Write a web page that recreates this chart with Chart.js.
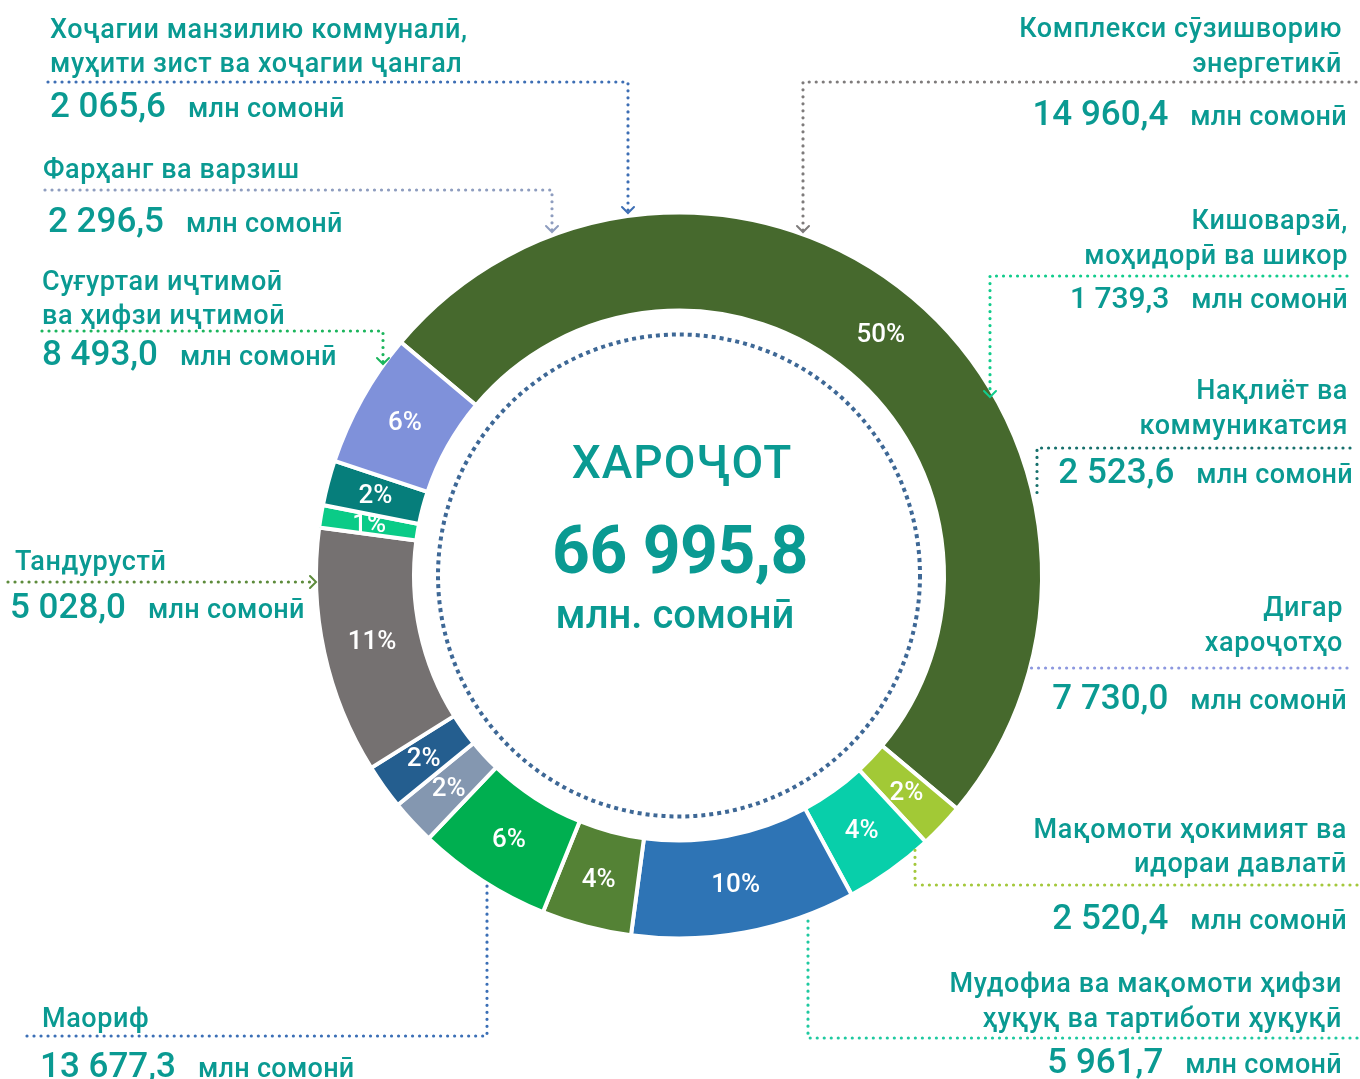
<!DOCTYPE html>
<html>
<head>
<meta charset="utf-8">
<script src="https://cdn.jsdelivr.net/npm/chart.js@4.4.1/dist/chart.umd.min.js"></script>
<style>
html, body { margin: 0; padding: 0; background: #fff; }
#wrap { position: relative; width: 1360px; height: 1079px; overflow: hidden; }
#chart, #labels { position: absolute; left: 0; top: 0; }
#labels text { font-family: Roboto, "DejaVu Sans", sans-serif; fill: #0A9A92; }
.cat { font-size: 27px; font-weight: 500; letter-spacing: 0.6px; }
.num { font-size: 35px; font-weight: 500; }
.num.small { font-size: 30px; }
.unit { font-size: 27px; font-weight: 500; letter-spacing: 0.3px; }
</style>
</head>
<body>
<div id="wrap">
<canvas id="chart" width="1360" height="1079"></canvas>
<svg id="labels" width="1360" height="1079" xmlns="http://www.w3.org/2000/svg"></svg>
</div>
<script>
// ring segments as drawn (clockwise, starting upper left)
var shares = [50, 2, 4, 10, 4, 6, 2, 2, 11, 1, 2, 6];
var shareColors = ['#46692D', '#A2C936', '#08CFAA', '#2E74B5', '#548235', '#00AF50',
    '#8497B0', '#245E8F', '#757171', '#0ACB87', '#067E7B', '#7F91DA'];

// spending categories, million somoni
var categories = [
    ['Хоҷагии манзилию коммуналӣ,', 'муҳити зист ва хоҷагии ҷангал'],
    ['Фарҳанг ва варзиш'],
    ['Суғуртаи иҷтимоӣ', 'ва ҳифзи иҷтимоӣ'],
    ['Тандурустӣ'],
    ['Маориф'],
    ['Комплекси сӯзишворию', 'энергетикӣ'],
    ['Кишоварзӣ,', 'моҳидорӣ ва шикор'],
    ['Нақлиёт ва', 'коммуникатсия'],
    ['Дигар', 'хароҷотҳо'],
    ['Мақомоти ҳокимият ва', 'идораи давлатӣ'],
    ['Мудофиа ва мақомоти ҳифзи', 'ҳуқуқ ва тартиботи ҳуқуқӣ']
];
var spending = [2065.6, 2296.5, 8493.0, 5028.0, 13677.3, 14960.4, 1739.3, 2523.6, 7730.0, 2520.4, 5961.7];
var unitLabel = 'млн сомонӣ';
var centerTitle = 'ХАРОҶОТ';
var centerUnit = 'млн. сомонӣ';

// where each label block sits (baselines)
var labelLayout = [
    { x: 50, anchor: 'start', lines: [38, 72], numX: 50, num: 117 },
    { x: 43, anchor: 'start', lines: [178], numX: 48, num: 232 },
    { x: 42, anchor: 'start', lines: [290, 324], numX: 42, num: 365 },
    { x: 15, anchor: 'start', lines: [570], numX: 10, num: 618 },
    { x: 42, anchor: 'start', lines: [1027], numX: 40, num: 1077 },
    { x: 1342, anchor: 'end', lines: [37, 72], numX: 1347, num: 125 },
    { x: 1348, anchor: 'end', lines: [229, 264], numX: 1348, num: 308, small: true },
    { x: 1348, anchor: 'end', lines: [399, 434], numX: 1353, num: 483 },
    { x: 1343, anchor: 'end', lines: [616, 651], numX: 1347, num: 709 },
    { x: 1347, anchor: 'end', lines: [838, 872], numX: 1347, num: 929 },
    { x: 1342, anchor: 'end', lines: [992, 1027], numX: 1342, num: 1073 }
];

// dotted leader lines: colour, points, arrow at the end
var leaders = [
    { color: '#3D6EB4', pts: [[48, 82], [628, 82], [628, 211]], arrow: 'down' },
    { color: '#8E9DBF', pts: [[45, 190], [552, 190], [552, 230]], arrow: 'down' },
    { color: '#1BB55C', pts: [[42, 331], [383, 331], [383, 362]], arrow: 'down' },
    { color: '#5D8B3B', pts: [[8, 582], [313, 582]], arrow: 'right' },
    { color: '#3B6FB6', pts: [[27, 1036], [487, 1036], [487, 884]] },
    { color: '#7E7B7B', pts: [[1356, 82], [803, 82], [803, 230]], arrow: 'down' },
    { color: '#12CC8C', pts: [[1347, 276], [990, 276], [990, 395]], arrow: 'down' },
    { color: '#17706C', pts: [[1350, 448], [1037, 448], [1037, 498]] },
    { color: '#8D98DF', pts: [[1347, 668], [1030, 668]] },
    { color: '#A4C83C', pts: [[1357, 885], [915, 885], [915, 850]] },
    { color: '#1FC9A0', pts: [[1357, 1038], [808, 1038], [808, 917]] }
];

formatValue = function (v) {
    var parts = v.toFixed(1).split('.');
    return parts[0].replace(/\B(?=(\d{3})+(?!\d))/g, ' ') + ',' + parts[1];
}

var SVGNS = 'http://www.w3.org/2000/svg';
makeText = function (x, y, anchor, cls) {
    var t = document.createElementNS(SVGNS, 'text');
    t.setAttribute('x', x);
    t.setAttribute('y', y);
    t.setAttribute('text-anchor', anchor);
    if (cls) t.setAttribute('class', cls);
    return t;
}

drawLabels = function () {
    var svg = document.getElementById('labels');
    for (var i = 0; i < categories.length; i++) {
        var lay = labelLayout[i];
        for (var j = 0; j < categories[i].length; j++) {
            var t = makeText(lay.x, lay.lines[j], lay.anchor, 'cat');
            t.textContent = categories[i][j];
            svg.appendChild(t);
        }
        var n = makeText(lay.numX, lay.num, lay.anchor);
        var s1 = document.createElementNS(SVGNS, 'tspan');
        s1.setAttribute('class', lay.small ? 'num small' : 'num');
        s1.textContent = formatValue(spending[i]);
        var s2 = document.createElementNS(SVGNS, 'tspan');
        s2.setAttribute('class', 'unit');
        s2.setAttribute('dx', 22);
        s2.textContent = unitLabel;
        n.appendChild(s1);
        n.appendChild(s2);
        svg.appendChild(n);
    }

    var total = spending.reduce(function (a, b) { return a + b; }, 0);
    var c1 = makeText(682, 478, 'middle');
    c1.setAttribute('style', 'font-size:46px;font-weight:500;letter-spacing:1px');
    c1.textContent = centerTitle;
    var c2 = makeText(680, 573, 'middle');
    c2.setAttribute('style', 'font-size:66px;font-weight:700;letter-spacing:-0.5px');
    c2.textContent = formatValue(total);
    var c3 = makeText(675, 628, 'middle');
    c3.setAttribute('style', 'font-size:40px;font-weight:500');
    c3.textContent = centerUnit;
    svg.appendChild(c1);
    svg.appendChild(c2);
    svg.appendChild(c3);
}

var ringDecor = {
    id: 'ringDecor',
    afterDatasetsDraw: function (chart) {
        var ctx = chart.ctx;
        var meta = chart.getDatasetMeta(0);
        var first = meta.data[0];
        ctx.save();

        // share labels in the middle of each segment
        ctx.fillStyle = '#fff';
        ctx.font = '500 26px Roboto, sans-serif';
        ctx.textAlign = 'center';
        ctx.textBaseline = 'middle';
        meta.data.forEach(function (arc, i) {
            var p = arc.tooltipPosition();
            ctx.fillText(shares[i] + '%', p.x, p.y + 1);
        });

        // dotted circle inside the ring
        ctx.beginPath();
        ctx.setLineDash([4, 4]);
        ctx.lineWidth = 4;
        ctx.strokeStyle = '#3E6896';
        ctx.arc(first.x, first.y, first.innerRadius - 24, 0, Math.PI * 2);
        ctx.stroke();

        // leader lines
        leaders.forEach(function (l) {
            ctx.beginPath();
            ctx.setLineDash([0.01, 7]);
            ctx.lineCap = 'round';
            ctx.lineWidth = 3.2;
            ctx.strokeStyle = l.color;
            ctx.moveTo(l.pts[0][0], l.pts[0][1]);
            for (var k = 1; k < l.pts.length; k++) ctx.lineTo(l.pts[k][0], l.pts[k][1]);
            ctx.stroke();
            if (l.arrow) {
                var e = l.pts[l.pts.length - 1];
                ctx.beginPath();
                ctx.setLineDash([]);
                ctx.lineWidth = 2;
                if (l.arrow == 'down') {
                    ctx.moveTo(e[0] - 6, e[1] - 4);
                    ctx.lineTo(e[0], e[1] + 2);
                    ctx.lineTo(e[0] + 6, e[1] - 4);
                } else {
                    ctx.moveTo(e[0] - 3, e[1] - 6);
                    ctx.lineTo(e[0] + 3, e[1]);
                    ctx.lineTo(e[0] - 3, e[1] + 6);
                }
                ctx.stroke();
            }
        });
        ctx.restore();
    }
};

var ctx = document.getElementById('chart');
var ringChart = new Chart(ctx, {
    type: 'doughnut',
    data: {
        labels: shares.map(function (s) { return s + '%'; }),
        datasets: [{
            data: shares,
            backgroundColor: shareColors,
            borderColor: '#ffffff',
            borderWidth: 4
        }]
    },
    options: {
        responsive: false,
        animation: false,
        rotation: -50,
        radius: 363,
        cutout: '73%',
        layout: { padding: { top: 72, right: 2 } },
        plugins: {
            legend: { display: false },
            tooltip: { enabled: false }
        }
    },
    plugins: [ringDecor]
});

drawLabels();
</script>
</body>
</html>
